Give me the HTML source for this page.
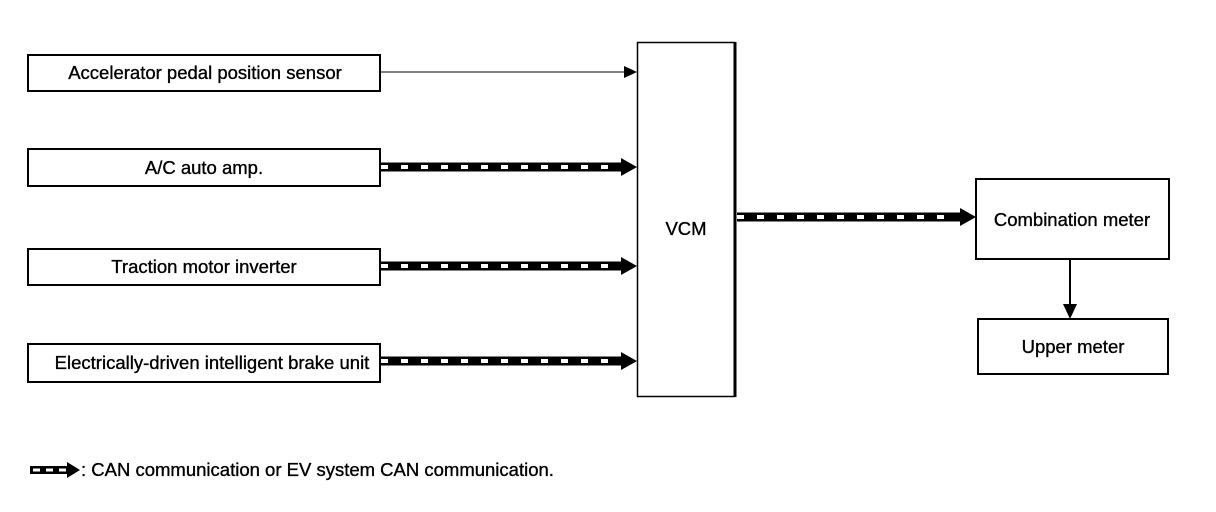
<!DOCTYPE html>
<html><head><meta charset="utf-8"><style>
html,body{margin:0;padding:0;background:#fff;}
svg{display:block;}
text{font-family:"Liberation Sans",Arial,sans-serif;font-size:18.5px;fill:#000;stroke:#000;stroke-width:0.35px;}
</style></head><body>
<svg width="1216" height="512" viewBox="0 0 1216 512" xmlns="http://www.w3.org/2000/svg">
<g fill="none" stroke="#000" stroke-width="2">
<rect x="28" y="55" width="352" height="36"/>
<rect x="28" y="149" width="352" height="37"/>
<rect x="28" y="249" width="352" height="36"/>
<rect x="28" y="344" width="352" height="38"/>
<rect x="976" y="179" width="193" height="80"/>
<rect x="978" y="319" width="190" height="55"/>
</g>
<rect x="637.5" y="42.5" width="97" height="354" fill="none" stroke="#000" stroke-width="1.5"/>
<line x1="735" y1="42" x2="735" y2="397" stroke="#000" stroke-width="3"/>
<text x="205" y="79" text-anchor="middle">Accelerator pedal position sensor</text>
<text x="204" y="174" text-anchor="middle">A/C auto amp.</text>
<text x="204" y="273" text-anchor="middle">Traction motor inverter</text>
<text x="212" y="369" text-anchor="middle">Electrically-driven intelligent brake unit</text>
<text x="686" y="235" text-anchor="middle">VCM</text>
<text x="1072" y="226" text-anchor="middle">Combination meter</text>
<text x="1073" y="353" text-anchor="middle">Upper meter</text>
<line x1="380" y1="72" x2="624" y2="72" stroke="#000" stroke-width="1"/>
<polygon points="624,66 637,72 624,78" fill="#000"/>
<g stroke-width="9">
<line x1="381" y1="167" x2="624" y2="167" stroke="#000"/>
<line x1="381" y1="167" x2="618" y2="167" stroke="#fff" stroke-width="4" stroke-dasharray="7 13"/>
<polygon points="621,158 637,167 621,176" fill="#000"/>
<line x1="381" y1="266" x2="624" y2="266" stroke="#000"/>
<line x1="381" y1="266" x2="618" y2="266" stroke="#fff" stroke-width="4" stroke-dasharray="7 13"/>
<polygon points="621,257 637,266 621,275" fill="#000"/>
<line x1="381" y1="361" x2="624" y2="361" stroke="#000"/>
<line x1="381" y1="361" x2="618" y2="361" stroke="#fff" stroke-width="4" stroke-dasharray="7 13"/>
<polygon points="621,352 637,361 621,370" fill="#000"/>
<line x1="737" y1="217" x2="962" y2="217" stroke="#000"/>
<line x1="737" y1="217" x2="956" y2="217" stroke="#fff" stroke-width="4" stroke-dasharray="7 13"/>
<polygon points="960,208 976,217 960,226" fill="#000"/>
<line x1="30" y1="470" x2="70" y2="470" stroke="#000" stroke-width="8"/>
<line x1="33" y1="470" x2="66" y2="470" stroke="#fff" stroke-width="3" stroke-dasharray="7 6"/>
<polygon points="67,462 80,470 67,478" fill="#000"/>
</g>
<line x1="1070" y1="259" x2="1070" y2="306" stroke="#000" stroke-width="2"/>
<polygon points="1063,304 1070,319 1077,304" fill="#000"/>
<text x="81" y="476">: CAN communication or EV system CAN communication.</text>
</svg>
</body></html>
